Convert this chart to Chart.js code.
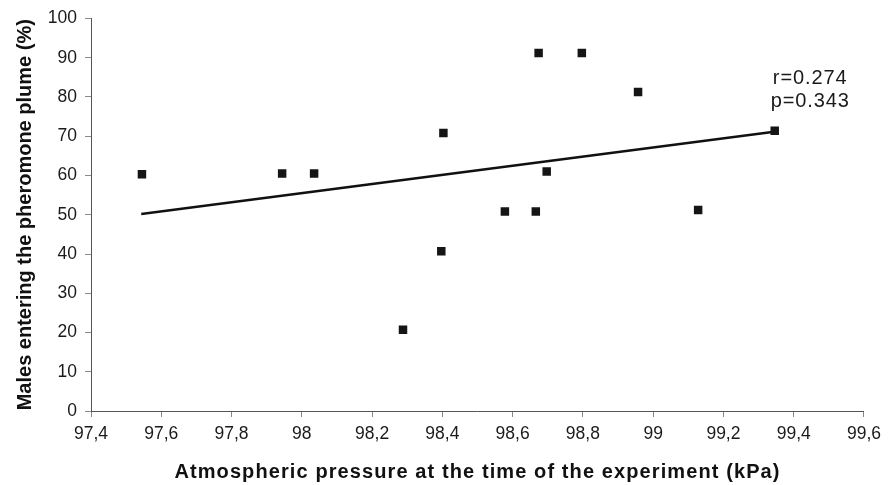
<!DOCTYPE html>
<html>
<head>
<meta charset="utf-8">
<title>Males entering the pheromone plume vs atmospheric pressure</title>
<script src="https://cdn.jsdelivr.net/npm/chart.js@4/dist/chart.umd.min.js"></script>
<style>
  html, body { margin: 0; padding: 0; background: #fff; }
  #wrap { width: 888px; height: 485px; }
</style>
</head>
<body>
<div id="wrap"><canvas id="pressure" width="888" height="485"></canvas></div>
<script>
// field trials: pressure (kPa) and % of males reaching the plume
const pressure = [97.545, 97.944, 98.035, 98.288, 98.397, 98.403, 98.578, 98.666, 98.674, 98.697, 98.797, 98.957, 99.128, 99.346];
const males = [60.3, 60.5, 60.5, 20.7, 40.7, 70.8, 50.8, 50.8, 91.2, 61.0, 91.2, 81.3, 51.2, 71.4];

// fitted regression line, end points
const trendX = [97.543, 99.35];
const trendY = [50.2, 71.2];

const xTicks = [97.4, 97.6, 97.8, 98, 98.2, 98.4, 98.6, 98.8, 99, 99.2, 99.4, 99.6];
const xTickLabels = ['97,4', '97,6', '97,8', '98', '98,2', '98,4', '98,6', '98,8', '99', '99,2', '99,4', '99,6'];
const yTicks = [0, 10, 20, 30, 40, 50, 60, 70, 80, 90, 100];

const statsText = ['r=0.274', 'p=0.343'];
const statsAt = { x: 99.447, y: [84.8, 78.8] };

const FONT = '"Liberation Sans", Arial, Helvetica, sans-serif';

const points = pressure.map((p, i) => ({ x: p, y: males[i] }));
const trend = trendX.map((t, i) => ({ x: t, y: trendY[i] }));

// writes r / p next to the line
const statsLabel = {
  id: 'statsLabel',
  afterDatasetsDraw(chart) {
    const ctx = chart.ctx;
    const xs = chart.scales.x, ys = chart.scales.y;
    ctx.save();
    ctx.fillStyle = '#1a1a1a';
    ctx.font = '20px ' + FONT;
    ctx.letterSpacing = '0.9px';
    ctx.textAlign = 'center';
    ctx.textBaseline = 'middle';
    statsText.forEach((t, i) => {
      ctx.fillText(t, xs.getPixelForValue(statsAt.x), ys.getPixelForValue(statsAt.y[i]));
    });
    ctx.restore();
  }
};

// the x title is set a little wider than the default
function spaceTitle(scale, spacing) {
  if (scale._spaced) return;
  const draw = scale.drawTitle.bind(scale);
  scale.drawTitle = function () {
    this.ctx.save();
    this.ctx.letterSpacing = spacing;
    draw();
    this.ctx.restore();
  };
  scale._spaced = true;
}

new Chart(document.getElementById('pressure'), {
  type: 'scatter',
  data: {
    datasets: [
      {
        label: 'trials',
        data: points,
        pointStyle: 'rect',
        pointRadius: 6,
        pointHoverRadius: 6,
        backgroundColor: '#151515',
        borderColor: '#151515',
        borderWidth: 0
      },
      {
        label: 'regression',
        type: 'line',
        data: trend,
        showLine: true,
        pointRadius: 0,
        borderColor: '#111',
        borderWidth: 2.6,
        fill: false
      }
    ]
  },
  options: {
    responsive: false,
    animation: false,
    layout: { padding: { top: 15, right: 21, bottom: 0, left: 0 } },
    plugins: {
      legend: { display: false },
      tooltip: { enabled: false }
    },
    scales: {
      x: {
        type: 'linear',
        min: 97.4,
        max: 99.6,
        afterBuildTicks(scale) { scale.ticks = xTicks.map(v => ({ value: v })); },
        afterFit(scale) {
          scale.height = 74;
          spaceTitle(scale, '1.1px');
        },
        ticks: {
          color: '#1a1a1a',
          padding: 7,
          font: { family: FONT, size: 17.5 },
          maxRotation: 0,
          callback: (v, i) => xTickLabels[i]
        },
        grid: { drawOnChartArea: false, tickLength: 6, color: '#8a8a8a' },
        border: { color: '#555', width: 1 },
        title: {
          display: true,
          text: 'Atmospheric pressure at the time of the experiment (kPa)',
          color: '#111',
          font: { family: FONT, size: 20, weight: 'bold' },
          padding: { top: 0, bottom: 1 }
        }
      },
      y: {
        min: 0,
        max: 100,
        afterBuildTicks(scale) { scale.ticks = yTicks.map(v => ({ value: v })); },
        afterFit(scale) { scale.width = 91; },
        ticks: {
          color: '#1a1a1a',
          padding: 8,
          font: { family: FONT, size: 17.5 }
        },
        grid: { drawOnChartArea: false, tickLength: 6, color: '#8a8a8a' },
        border: { color: '#555', width: 1 },
        title: {
          display: true,
          text: 'Males entering the pheromone plume (%)',
          color: '#111',
          font: { family: FONT, size: 20, weight: 'bold' },
          padding: { top: 13, bottom: 0 }
        }
      }
    }
  },
  plugins: [statsLabel]
});
</script>
</body>
</html>
